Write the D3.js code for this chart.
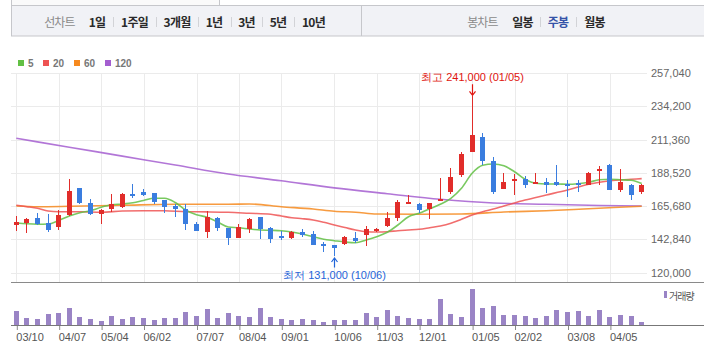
<!DOCTYPE html>
<html><head><meta charset="utf-8">
<script src="https://cdn.jsdelivr.net/npm/d3@7"></script>
<style>
html,body{margin:0;padding:0;background:#fff;}
svg{display:block;}
</style></head>
<body>
<svg id="c" width="704" height="356"></svg>
<script>
// ---------- DATA ----------
const weeks = d3.range(60); // weekly candle index (03/10 … 04/12)
const open  = [152800,154200,157400,154000,151500,159500,178000,167700,160400,163800,165200,173900,175300,174600,169800,165700,163600,153100,147800,157400,150600,143900,150100,158100,150400,145100,143500,148000,146400,139600,138900,139800,143500,145800,148700,152100,157600,167700,167000,163800,169100,175500,187200,202800,213100,196600,177600,183700,184200,181000,182200,182200,180800,181500,180300,189900,193800,176900,180100,175500];
const high  = [158800,157600,161100,160200,162900,184200,178300,170500,163600,173900,174600,180800,177400,174600,170000,166800,166800,154500,162000,158100,150800,153300,157400,158300,151000,148500,148700,149900,148500,141000,138900,145100,147800,151900,150600,161600,169800,173000,167500,167900,184900,191800,202800,241000,216000,199300,188300,187700,186300,188500,184900,193800,183700,183700,189000,193100,194500,191100,180800,180800];
const low   = [148700,147300,152600,148000,149200,159000,167000,159500,153500,161600,164500,171400,172500,167300,161100,158300,149200,148300,143900,148500,139100,143900,147300,143000,140500,142300,143000,144400,138900,134100,131000,138900,140500,138400,148000,151500,155600,166800,160700,157000,169000,174100,185800,202500,193800,173700,177300,173200,178200,180800,174800,179700,172100,175500,180100,180300,176700,175300,169600,174100];
const close = [154700,156700,153300,149200,159300,176000,168000,160400,162900,167000,173900,172500,173400,168400,165000,163600,153100,148500,158100,150800,143900,151200,156500,150100,143000,143700,148000,145800,139100,139100,137000,144400,141800,149700,149900,157600,168400,168400,163100,167500,170500,185400,201400,214400,196800,175500,182200,184200,179900,182200,179900,179900,180300,180600,188300,191100,176900,182200,173000,180100];
const volume = [143,73,60,113,123,173,83,63,43,93,63,83,73,50,73,73,133,93,163,73,123,93,83,173,83,63,53,63,53,33,53,53,53,123,83,153,93,73,63,63,263,113,83,363,173,193,103,103,93,73,93,153,133,143,93,153,83,103,93,33];

const ma5 = [154000,153450,153180,153310,155720,158810,161080,162450,164790,166500,167050,167880,169460,171040,171040,168080,162730,159700,157990,154690,151250,150700,149880,149190,148990,148710,147820,146450,144590,142800,141840,140950,140470,142320,144590,147610,152630,158330,160670,163820,166850,170970,177840,188140,193640,194530,193290,189240,184020,181270,180790,180790,180580,181000,181960,183740,184090,183740,183330,181130];
const ma20Idx = [0,1,2,3,4,6,8,10,12,14,16,18,20,22,24,25,26,27,28,29,30,31,32,33,34,35,36,37,38,39,40,41,42,43,44,45,46,48,50,52,54,56,58,59];
const ma20Val = [166160,165200,164100,162240,161760,161760,161350,162240,162450,162450,161760,161630,161350,160670,159980,158810,157640,156960,156060,154480,152630,150910,149190,148030,147820,148030,148710,149190,149670,150770,151940,153800,156540,159500,161760,163620,165680,169800,173230,176670,180580,183060,184020,184500];
const ma60Idx = [0,2,5,10,15,20,22,25,28,30,32,34,38,42,46,50,54,59];
const ma60Val = [165680,165200,165470,166160,166850,166850,167050,165200,163620,162040,161420,160180,159980,160180,161560,162450,163820,165540];
const ma120Idx = [0,5,10,15,20,25,30,35,40,45,50,55,59];
const ma120Val = [212180,206070,199950,193840,187660,182990,178110,174130,170280,167740,166850,166020,165680];

const priceTicks = [120000,142840,165680,188520,211360,234200,257040];
const dateTickIdx = [0,4,8,12,17,21,25,30,34,38,43,47,52,56];
const dateTickLabels = ["03/10","04/07","05/04","06/02","07/07","08/04","09/01","10/06","11/03","12/01","01/05","02/02","03/08","04/05"];

const maNames = ["5","20","60","120"];
const maColors = ["#62c044","#ee5353","#f6891f","#a45ed0"];

const hiIdx = 43, hiLabel = "최고 241,000 (01/05)";
const loIdx = 30, loLabel = "최저 131,000 (10/06)";

const lineTabs = ["1일","1주일","3개월","1년","3년","5년","10년"];
const candleTabs = ["일봉","주봉","월봉"];

// ---------- LAYOUT ----------
const svg = d3.select("#c");
const FONT = "'Liberation Sans', Arial, sans-serif";
const KFONT = "'Noto Sans CJK KR', 'Noto Sans', sans-serif";
const RED = "#e12d2a", BLUE = "#3a7ddf", VOL = "#9a84c5";

const x = d3.scaleBand().domain(weeks).range([11, 647]).padding(0);
const cx = i => x(i) + x.bandwidth() / 2;
const y = d3.scaleLinear().domain([120000, 257040]).range([272.5, 73]);
const yv = d3.scaleLinear().domain([0, 430]).range([325, 282]);

// ---------- TOOLBAR ----------
svg.append("rect").attr("x", 11.5).attr("y", -2).attr("width", 208).attr("height", 7.5)
  .attr("fill", "#fafafa").attr("stroke", "#c6c7cb");
svg.append("rect").attr("x", 11.5).attr("y", 5.5).attr("width", 700).attr("height", 30.5)
  .attr("fill", "#f1f2f6").attr("stroke", "#c6c7cb");
svg.append("line").attr("x1", 361.5).attr("x2", 361.5).attr("y1", 6).attr("y2", 36)
  .attr("stroke", "#c6c7cb");

const tb = svg.append("g").attr("font-family", KFONT).attr("font-size", 12)
  .attr("letter-spacing", "-0.8px").attr("dominant-baseline", "central").attr("text-anchor", "middle");
tb.append("text").attr("x", 59.5).attr("y", 21).attr("fill", "#8a8a8a").text("선차트");
const lineTabCx = [97, 134.5, 177, 214, 246.5, 278, 313.5];
const lineSepX = [113, 156, 198, 231, 262, 294];
lineTabs.forEach((t, i) => tb.append("text").attr("x", lineTabCx[i]).attr("y", 21)
  .attr("fill", "#2a2a2a").attr("font-weight", "bold").text(t));
lineSepX.forEach(sx => svg.append("line").attr("x1", sx + 0.5).attr("x2", sx + 0.5)
  .attr("y1", 17).attr("y2", 27).attr("stroke", "#d2d3d7"));
tb.append("text").attr("x", 482.5).attr("y", 21).attr("fill", "#8a8a8a").text("봉차트");
const candleTabCx = [522.5, 558, 594.5];
const candleSepX = [540, 576];
candleTabs.forEach((t, i) => tb.append("text").attr("x", candleTabCx[i]).attr("y", 21)
  .attr("fill", i === 1 ? "#3553a8" : "#2a2a2a").attr("font-weight", "bold").text(t));
candleSepX.forEach(sx => svg.append("line").attr("x1", sx + 0.5).attr("x2", sx + 0.5)
  .attr("y1", 17).attr("y2", 27).attr("stroke", "#d2d3d7"));

// ---------- LEGEND ----------
const legX = [18, 43, 74, 105];
const lg = svg.append("g");
maNames.forEach((n, i) => {
  lg.append("rect").attr("x", legX[i]).attr("y", 60).attr("width", 6).attr("height", 6).attr("fill", maColors[i]);
  lg.append("text").attr("x", legX[i] + 10).attr("y", 63.5).attr("dominant-baseline", "central")
    .attr("font-family", FONT).attr("font-size", 10).attr("font-weight", "bold").attr("fill", "#777").text(n);
});

// ---------- GRID ----------
const grid = svg.append("g");
priceTicks.forEach(v => {
  const yy = Math.round(y(v)) + 0.5;
  grid.append("line").attr("x1", 11).attr("x2", 647).attr("y1", yy).attr("y2", yy).attr("stroke", "#ebebeb");
});
dateTickIdx.forEach(i => {
  const xx = Math.round(cx(i)) + 0.5;
  grid.append("line").attr("x1", xx).attr("x2", xx).attr("y1", 73).attr("y2", 282).attr("stroke", "#ebebeb");
});

// y axis labels
const ya = d3.axisRight(y).tickValues(priceTicks).tickSize(0).tickPadding(0)
  .tickFormat(d3.format(","));
const yg = svg.append("g").attr("transform", "translate(651,0)").call(ya);
yg.select(".domain").remove();
yg.selectAll("text").attr("font-family", FONT).attr("font-size", 11).attr("fill", "#666");

// ---------- MOVING AVERAGES ----------
const lineGen = d3.line().x(d => cx(d[0])).y(d => y(d[1])).curve(d3.curveMonotoneX);
const maSeries = [
  weeks.map(i => [i, ma5[i]]),
  ma20Idx.map((i, k) => [i, ma20Val[k]]),
  ma60Idx.map((i, k) => [i, ma60Val[k]]),
  ma120Idx.map((i, k) => [i, ma120Val[k]])
];
const mag = svg.append("g");
[3, 2, 1, 0].forEach(k => {
  mag.append("path").attr("d", lineGen(maSeries[k])).attr("fill", "none")
    .attr("stroke", maColors[k]).attr("stroke-width", 1.6).attr("stroke-opacity", 0.85);
});

// ---------- CANDLES ----------
const cg = svg.append("g");
weeks.forEach(i => {
  const up = close[i] >= open[i];
  const col = up ? RED : BLUE;
  const x0 = Math.round(cx(i) - 2.5);
  const yh = Math.round(y(high[i])), yl = Math.round(y(low[i]));
  cg.append("rect").attr("x", x0 + 2).attr("y", yh).attr("width", 1).attr("height", Math.max(1, yl - yh)).attr("fill", col);
  const yt = Math.round(y(Math.max(open[i], close[i])));
  const yb = Math.round(y(Math.min(open[i], close[i])));
  cg.append("rect").attr("x", x0).attr("y", yt).attr("width", 5).attr("height", Math.max(2, yb - yt)).attr("fill", col);
});

// ---------- HIGH / LOW ANNOTATIONS ----------
const hx = Math.round(cx(hiIdx)) + 0.5, hy = y(high[hiIdx]);
svg.append("text").attr("x", hx).attr("y", hy - 19).attr("text-anchor", "middle").attr("dominant-baseline", "central")
  .attr("font-family", FONT).attr("font-size", 11).attr("fill", "#e0140f").text(hiLabel);
svg.append("path").attr("d", `M${hx},${hy - 12}V${hy - 1}M${hx - 3},${hy - 5}L${hx},${hy - 1}L${hx + 3},${hy - 5}`)
  .attr("fill", "none").attr("stroke", "#e0140f").attr("stroke-width", 1.2);
const lx = Math.round(cx(loIdx)) + 0.5, ly = y(low[loIdx]);
svg.append("text").attr("x", lx).attr("y", ly + 18.5).attr("text-anchor", "middle").attr("dominant-baseline", "central")
  .attr("font-family", FONT).attr("font-size", 11).attr("fill", "#1f64d8").text(loLabel);
svg.append("path").attr("d", `M${lx},${ly + 11}V${ly + 1.5}M${lx - 3},${ly + 5.5}L${lx},${ly + 1.5}L${lx + 3},${ly + 5.5}`)
  .attr("fill", "none").attr("stroke", "#1f64d8").attr("stroke-width", 1.2);

// ---------- PANEL LINES ----------
svg.append("line").attr("x1", 11).attr("x2", 704).attr("y1", 282.5).attr("y2", 282.5).attr("stroke", "#8a8a8a");

// ---------- VOLUME ----------
const vg = svg.append("g");
weeks.forEach(i => {
  const x0 = Math.round(cx(i) - 2.5);
  const yt = Math.round(yv(volume[i]));
  vg.append("rect").attr("x", x0).attr("y", yt).attr("width", 5).attr("height", 325 - yt).attr("fill", VOL);
});
svg.append("rect").attr("x", 664).attr("y", 291).attr("width", 3).attr("height", 7).attr("fill", VOL);
svg.append("text").attr("x", 669).attr("y", 295).attr("dominant-baseline", "central")
  .attr("font-family", KFONT).attr("font-size", 10).attr("letter-spacing", "-1px").attr("fill", "#555").text("거래량");

// x axis (labels start at the tick, as in the reference)
const xa = d3.axisBottom(d3.scaleLinear().domain([0, 59]).range([cx(0), cx(59)]))
  .tickValues(dateTickIdx).tickSize(5).tickPadding(3)
  .tickFormat((d, k) => dateTickLabels[k]);
const xg = svg.append("g").attr("transform", "translate(0,325)").call(xa);
xg.select(".domain").remove();
xg.selectAll(".tick line").attr("stroke", "#8a8a8a").attr("transform", "translate(0.5,0)");
xg.selectAll("text").attr("font-family", FONT).attr("font-size", 11).attr("fill", "#555")
  .attr("text-anchor", "start").attr("x", -0.5);
svg.append("line").attr("x1", 11).attr("x2", 704).attr("y1", 325.5).attr("y2", 325.5).attr("stroke", "#777");
</script>
</body></html>
